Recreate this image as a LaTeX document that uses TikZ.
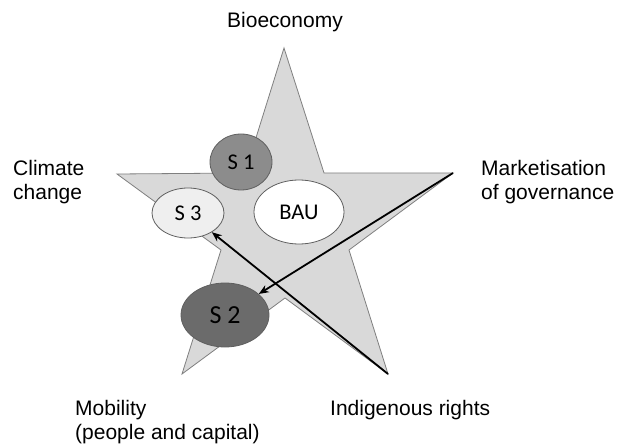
\documentclass[tikz,border=0pt]{standalone}
\usepackage{fontspec}
\setmainfont{Liberation Sans}
\newfontfamily\calib{Carlito}
\usetikzlibrary{arrows.meta,shapes.geometric}
\definecolor{starfill}{HTML}{D9D9D9}
\definecolor{starline}{HTML}{7F7F7F}
\definecolor{sone}{HTML}{8C8C8C}
\definecolor{stwo}{HTML}{6B6B6B}
\definecolor{sthree}{HTML}{EFEFEF}
\definecolor{ellline}{HTML}{5F5F5F}
\tikzset{
  lab/.style={font=\fontsize{21}{24}\selectfont, inner sep=0pt, align=left},
  scen/.style={ellipse, draw=ellline, line width=0.8pt, inner sep=0pt,
     font=\calib\fontsize{22.5}{24}\selectfont},
  link/.style={line width=1.8pt, -{Stealth[length=10pt,width=8pt]}},
}
\begin{document}
\begin{tikzpicture}[x=1pt,y=-1pt]
\useasboundingbox (0,0) rectangle (617,446);
% star
\draw[fill=starfill, draw=starline, line width=0.8pt]
  (284,48) -- (324,173) -- (453,173) -- (349,250) -- (388,374)
  -- (285,298) -- (182,374) -- (221,250) -- (117,174) -- (245,173) -- cycle;
\coordinate (rp) at (453,173);
\coordinate (brp) at (388,374);
% scenarios
\node[scen, fill=sone, minimum width=62pt, minimum height=56pt] (s1) at (241,162) {S 1};
\node[scen, fill=sthree, minimum width=72pt, minimum height=50pt] (s3) at (188,213) {S 3};
\node[scen, fill=white, minimum width=90pt, minimum height=64pt] (bau) at (299,212) {BAU};
\node[scen, fill=stwo, minimum width=88pt, minimum height=64pt, font=\calib\fontsize{26}{28}\selectfont] (s2) at (225,315) {S 2};
% arrows
\draw[link] (rp) -- (s2);
\draw[link] (brp) -- (s3);
% labels
\node[lab, anchor=base] (bio) at (285,28) {Bioeconomy};
\node[lab, anchor=base west] (cc) at (13,199) {Climate\\change};
\node[lab, anchor=base west] (mg) at (481,199) {Marketisation\\of governance};
\node[lab, anchor=base west] (mob) at (75,439) {Mobility\\(people and capital)};
\node[lab, anchor=base west] (ind) at (330,415) {Indigenous rights};
\end{tikzpicture}
\end{document}
